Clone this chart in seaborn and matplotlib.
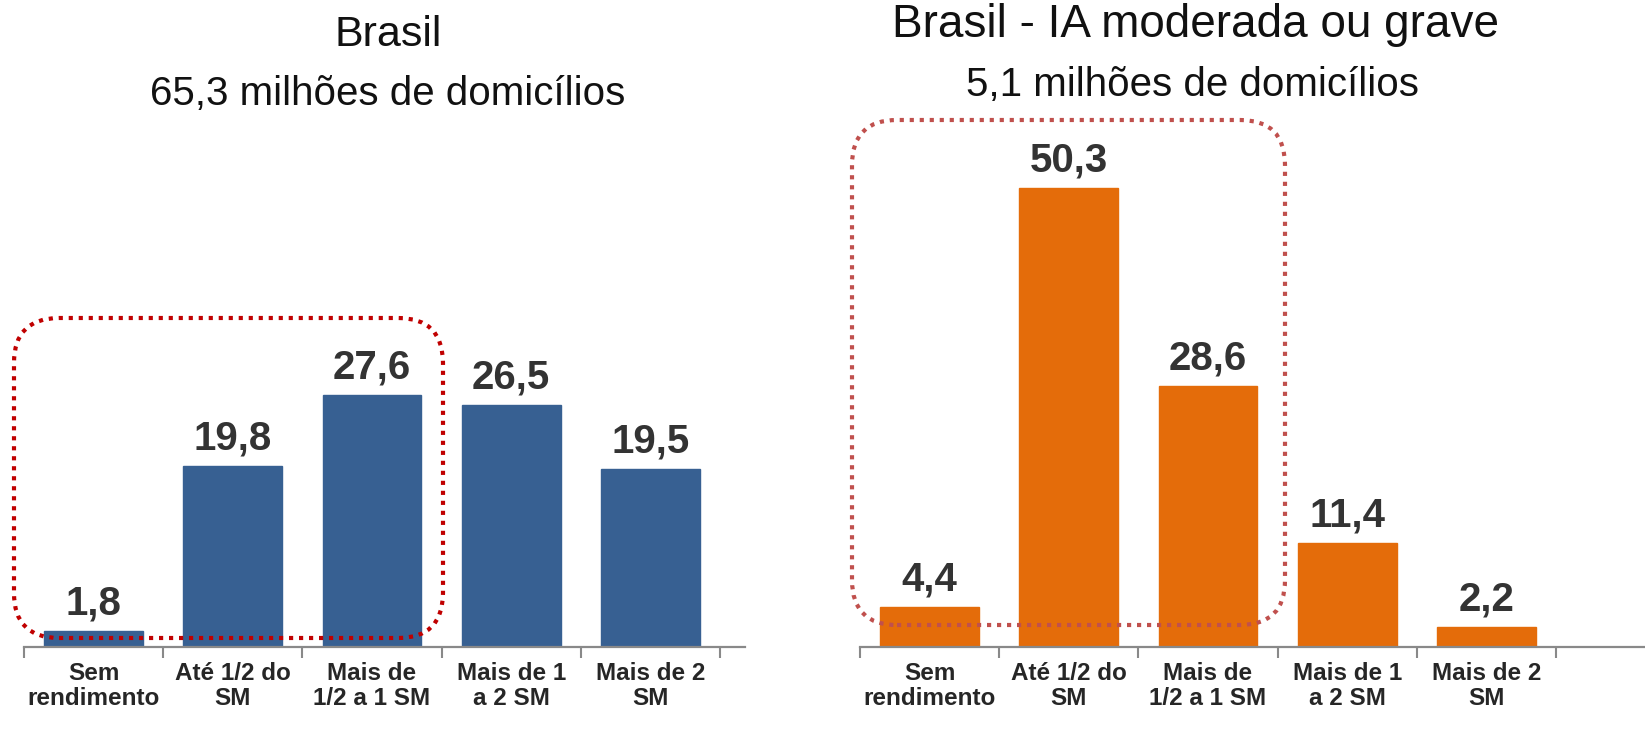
import numpy as np
import matplotlib
matplotlib.use("Agg")
import matplotlib.pyplot as plt
from matplotlib.patches import FancyBboxPatch
import seaborn as sns

# dados
categorias = ["Sem\nrendimento", "Até 1/2 do\nSM", "Mais de\n1/2 a 1 SM", "Mais de 1\na 2 SM", "Mais de 2\nSM"]
brasil = [1.8, 19.8, 27.6, 26.5, 19.5]
brasil_ia = [4.4, 50.3, 28.6, 11.4, 2.2]
titulo_esq = "Brasil"
sub_esq = "65,3 milhões de domicílios"
titulo_dir = "Brasil - IA moderada ou grave"
sub_dir = "5,1 milhões de domicílios"

AZUL = "#376092"
LARANJA = "#E46C0A"
CINZA = "#898989"

sns.set_style("white")
plt.rcParams["font.family"] = ["Liberation Sans", "DejaVu Sans"]

W, H = 1645, 744
fig = plt.figure(figsize=(W / 100, H / 100), dpi=100)

y0 = 647  # linha do eixo (px, de cima)
ytop = 130
ymax = (y0 - ytop) / 9.13


def painel(left_px, right_px, xmax, valores, cor):
    ax = fig.add_axes([left_px / W, (H - y0) / H, (right_px - left_px) / W, (y0 - ytop) / H])
    sns.barplot(x=list(range(len(valores))), y=valores, color=cor, saturation=1,
                width=0.71, ax=ax, edgecolor=cor)
    ax.set_xlim(-0.5, xmax)
    ax.set_ylim(0, ymax)
    ax.set_xlabel("")
    ax.set_ylabel("")
    ax.set_yticks([])
    for s in ["top", "left", "right"]:
        ax.spines[s].set_visible(False)
    ax.spines["bottom"].set_color(CINZA)
    ax.spines["bottom"].set_linewidth(1.6)
    ax.set_xticks(range(len(valores)))
    ax.set_xticklabels(categorias, fontsize=17.5, fontweight="bold", color="#262626",
                       linespacing=1.1)
    ax.set_xticks(np.arange(-0.5, len(valores), 1), minor=True)
    ax.tick_params(axis="x", which="major", bottom=False, length=0, pad=11)
    ax.tick_params(axis="x", which="minor", bottom=True, length=8, width=1.5,
                   color=CINZA, direction="out")
    rotulos = [f"{v:.1f}".replace(".", ",") for v in valores]
    ax.bar_label(ax.containers[0], labels=rotulos, padding=6, fontsize=29,
                 fontweight="bold", color="#333333")
    return ax


ax1 = painel(24, 745, 4.68, brasil, AZUL)
ax2 = painel(860, 1645, 5.14, brasil_ia, LARANJA)

# títulos
fig.text(388 / W, 1 - 35 / H, titulo_esq, ha="center", va="center", fontsize=31, color="#111111")
fig.text(388 / W, 1 - 94 / H, sub_esq, ha="center", va="center", fontsize=29, color="#111111")
fig.text(1196 / W, 1 - 25 / H, titulo_dir, ha="center", va="center", fontsize=33, color="#111111")
fig.text(1193 / W, 1 - 85 / H, sub_dir, ha="center", va="center", fontsize=29, color="#111111")

# caixas pontilhadas
for (x0, x1, yt, yb, cor) in [(14, 443, 318, 638, "#C00000"), (852, 1285, 120, 625, "#C0504D")]:
    caixa = FancyBboxPatch((x0 / 100, (H - yb) / 100), (x1 - x0) / 100, (yb - yt) / 100,
                           boxstyle="round,pad=0,rounding_size=0.45",
                           transform=fig.dpi_scale_trans, fill=False, edgecolor=cor,
                           linewidth=3, linestyle=(0, (1, 1.4)), zorder=10)
    fig.patches.append(caixa)

fig.savefig("out.png", dpi=100)
